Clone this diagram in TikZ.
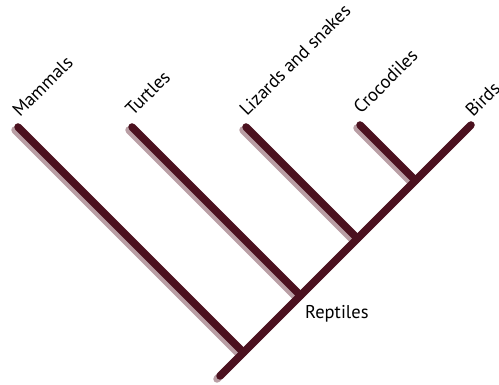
\documentclass[tikz,border=0pt]{standalone}
\usepackage{fontspec}
\setmainfont{PT Sans}
\begin{document}
\begin{tikzpicture}[x=1pt,y=-1pt,
  lab/.style={rotate=45,anchor=base west,inner sep=0pt,font=\fontsize{18.5}{20}\selectfont},
  limb/.style={line width=7.5pt,line cap=round,draw=branch},
  limbshade/.style={line width=7.5pt,line cap=round,draw=shade}]
\definecolor{branch}{HTML}{4B111F}
\definecolor{shade}{HTML}{B99EA4}
\useasboundingbox (0,0) rectangle (499,385);
% coordinates
\coordinate (root) at (220,376);
\coordinate (birds) at (471,125);
\coordinate (mam) at (18,127);
\coordinate (tur) at (132,127);
\coordinate (liz) at (246,127);
\coordinate (cro) at (360,125);
\coordinate (jm) at (243.5,352.5);
\coordinate (jt) at (300.5,295.5);
\coordinate (jl) at (357.5,238.5);
\coordinate (jc) at (415.5,180.5);
% shadows
\foreach \a/\b in {root/birds,mam/jm,tur/jt,liz/jl,cro/jc}
  \draw[limbshade] ([shift={(-3,3)}]\a) -- ([shift={(-3,3)}]\b);
% branches
\foreach \a/\b in {root/birds,mam/jm,tur/jt,liz/jl,cro/jc}
  \draw[limb] (\a) -- (\b);
% labels
\node[lab] (lmam) at (20,118) {Mammals};
\node[lab] (ltur) at (133,117) {Turtles};
\node[lab] (lliz) at (247,117) {Lizards and snakes};
\node[lab] (lcro) at (361,115) {Crocodiles};
\node[lab] (lbir) at (473,118) {Birds};
\node[anchor=base west,inner sep=0pt,font=\fontsize{18.5}{20}\selectfont] (rep) at (305,319) {Reptiles};
\end{tikzpicture}
\end{document}
